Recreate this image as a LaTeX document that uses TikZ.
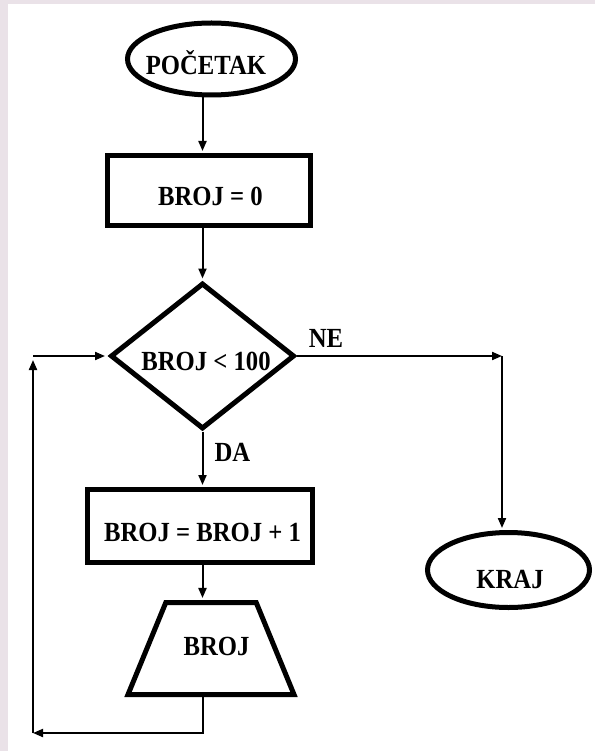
\documentclass[tikz,border=0pt]{standalone}
\usepackage{fontspec}
\setmainfont{Liberation Serif}
\usepackage{graphicx}
\usetikzlibrary{shapes.geometric,arrows.meta}
\definecolor{tint}{RGB}{234,226,232}
\newcommand{\stx}[1]{\scalebox{1}[1.12]{#1}}
\begin{document}
\begin{tikzpicture}[x=1pt,y=-1pt,
  shapeline/.style={draw=black, line width=5pt, fill=white, inner sep=0pt},
  termbox/.style={shapeline, ellipse},
  procbox/.style={shapeline, rectangle},
  decbox/.style={shapeline, diamond},
  iobox/.style={shapeline, trapezium, trapezium stretches=true, inner sep=2pt,
    trapezium left angle=66, trapezium right angle=66},
  txt/.style={font=\fontsize{24.7}{29}\selectfont\bfseries, inner sep=0pt, anchor=base},
  conn/.style={draw=black, line width=2pt, -{Triangle[length=10pt,width=8pt]}},
]
\fill[tint] (0,0) rectangle (595,751);
\fill[white] (8,4) rectangle (595,751);
\useasboundingbox (0,0) rectangle (595,751);

% shapes
\node[termbox, minimum width=168pt, minimum height=72pt] (start) at (211.5,59) {};
\node[procbox, minimum width=203pt, minimum height=70pt] (box1) at (209,190.5) {};
\node[decbox, minimum width=184pt, minimum height=146pt] (dec) at (202.5,356) {};
\node[procbox, minimum width=225pt, minimum height=73pt] (box2) at (200,526) {};
\node[iobox, minimum width=166pt, minimum height=92pt] (trap) at (211,648.5) {\phantom{X}};
\node[termbox, minimum width=162pt, minimum height=75pt] (end) at (508.5,570) {};

% texts
\node[txt] (starttxt) at (206,75) {\stx{POČETAK}};
\node[txt] (box1txt) at (210.5,205) {\stx{BROJ = 0}};
\node[txt] (dectxt) at (206,370) {\stx{BROJ < 100}};
\node[txt] (box2txt) at (202.5,541.7) {\stx{BROJ = BROJ + 1}};
\node[txt] (traptxt) at (216.5,655) {\stx{BROJ}};
\node[txt] (endtxt) at (510,588) {\stx{KRAJ}};
\node[txt] (yes) at (232.5,461.7) {\stx{DA}};
\node[txt] (no) at (326,347) {\stx{NE}};

% coordinates
\coordinate (lb) at (33,733);
\coordinate (lt) at (33,356);
\coordinate (nr) at (502,356);

% connectors
\draw[conn, shorten >=2pt] (start.south -| dec.north) -- (box1.north -| dec.north);
\draw[conn, shorten >=2pt] (box1.south -| dec.north) -- (dec.north);
\draw[conn, shorten >=2pt] (dec.south) -- (box2.north -| dec.south);
\draw[conn, shorten >=2pt] (box2.south -| dec.south) -- (trap.north -| dec.south);
\draw[conn] (trap.south -| dec.south) -- (dec.south |- lb) -- (lb);
\draw[conn, shorten >=4pt] (lb) -- (lt);
\draw[conn, shorten >=3pt] (lt) -- (dec.west);
\draw[conn] (dec.east) -- (nr);
\draw[conn, shorten >=2pt] (nr) -- (end.north -| nr);
\end{tikzpicture}
\end{document}
